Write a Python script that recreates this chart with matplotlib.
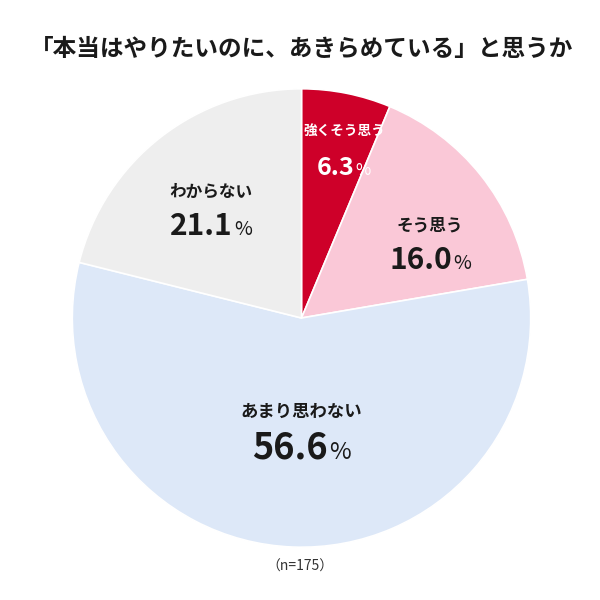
import matplotlib
matplotlib.use("Agg")
import matplotlib.pyplot as plt
from matplotlib.transforms import offset_copy

plt.rcParams['font.family'] = ['Noto Sans CJK JP', 'DejaVu Sans']

title = "「本当はやりたいのに、あきらめている」と思うか"
categories = ["強くそう思う", "そう思う", "あまり思わない", "わからない"]
values = [6.3, 16.0, 56.6, 21.1]
note = "（n=175）"

colors = ["#CE0029", "#FAC8D7", "#DDE8F8", "#EEEEEE"]
text_colors = ["white", "#1a1a1a", "#1a1a1a", "#1a1a1a"]
# label block positions (pie radius units)
label_pos = [(0.185, 0.745), (0.56, 0.335), (0.0, -0.48), (-0.395, 0.48)]
cat_sizes = [9.8, 12, 12.5, 12]
num_sizes = [18, 21.5, 26, 21.5]
pct_sizes = [12, 14, 17, 14]
num_dy = [0.12, 0.12, 0.135, 0.12]

fig = plt.figure(figsize=(6, 6), dpi=100)
ax = fig.add_axes([0.1205, 0.088, 0.764, 0.764])
ax.pie(values, colors=colors, startangle=90, counterclock=False, radius=1.0,
       wedgeprops=dict(edgecolor="white", linewidth=1.2))
ax.set_xlim(-1, 1)
ax.set_ylim(-1, 1)
ax.set_aspect("equal")
ax.axis("off")

fig.text(0.5025, 0.919, title, ha="center", va="center", fontsize=17,
         fontweight="bold", color="#1a1a1a")
fig.text(0.5, 0.055, note, ha="center", va="center", fontsize=10, color="#333333")

num_texts = []
for i, (cat, v) in enumerate(zip(categories, values)):
    x, y = label_pos[i]
    ax.text(x, y + 0.07, cat, ha="center", va="center", fontsize=cat_sizes[i],
            fontweight="bold", color=text_colors[i])
    t1 = ax.text(x, y - num_dy[i], f"{v:.1f}", ha="left", va="baseline",
                 fontsize=num_sizes[i], fontweight="bold", color=text_colors[i])
    t2 = ax.text(x, y - num_dy[i], "%", ha="left", va="baseline",
                 fontsize=pct_sizes[i], fontweight="normal", color=text_colors[i])
    num_texts.append((t1, t2))

fig.canvas.draw()
r = fig.canvas.get_renderer()
for t1, t2 in num_texts:
    w1 = t1.get_window_extent(r).width
    w2 = t2.get_window_extent(r).width
    tot = w1 + w2 + 1
    t1.set_transform(offset_copy(ax.transData, fig=fig, x=-tot / 2, y=0, units="dots"))
    t2.set_transform(offset_copy(ax.transData, fig=fig, x=-tot / 2 + w1 + 1, y=0, units="dots"))

fig.savefig("out.png", dpi=100, facecolor="white")
